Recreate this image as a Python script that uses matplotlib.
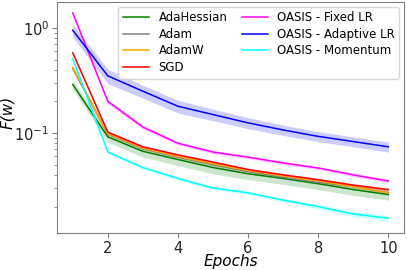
import numpy as np
import matplotlib
matplotlib.use('Agg')
from matplotlib import pyplot as plt

# data
epochs = [1, 2, 3, 4, 5, 6, 7, 8, 9, 10]
adahessian = [0.29, 0.092, 0.067, 0.056, 0.047, 0.041, 0.037, 0.033, 0.029, 0.026]
adahessian_std = [0.03, 0.010, 0.008, 0.007, 0.006, 0.005, 0.0045, 0.004, 0.0035, 0.003]
adam = [0.41, 0.098, 0.071, 0.059, 0.050, 0.043, 0.038, 0.034, 0.031, 0.027]
adam_std = [0.02, 0.004, 0.003, 0.0025, 0.002, 0.002, 0.0015, 0.0015, 0.0012, 0.001]
adamw = [0.42, 0.099, 0.072, 0.060, 0.051, 0.044, 0.039, 0.035, 0.031, 0.027]
adamw_std = [0.02, 0.004, 0.003, 0.0025, 0.002, 0.002, 0.0015, 0.0015, 0.0012, 0.001]
sgd = [0.58, 0.102, 0.074, 0.062, 0.053, 0.045, 0.040, 0.036, 0.032, 0.029]
sgd_std = [0.02, 0.003, 0.002, 0.002, 0.0015, 0.0012, 0.001, 0.001, 0.001, 0.001]
oasis_fixed = [1.39, 0.20, 0.114, 0.080, 0.066, 0.059, 0.052, 0.0465, 0.040, 0.035]
oasis_fixed_std = [0.05, 0.01, 0.005, 0.003, 0.0025, 0.002, 0.002, 0.0015, 0.0015, 0.0012]
oasis_adaptive = [0.95, 0.35, 0.25, 0.18, 0.15, 0.125, 0.107, 0.093, 0.083, 0.074]
oasis_adaptive_std = [0.13, 0.055, 0.035, 0.025, 0.019, 0.015, 0.012, 0.010, 0.009, 0.008]
oasis_momentum = [0.51, 0.066, 0.047, 0.037, 0.030, 0.027, 0.023, 0.020, 0.017, 0.0155]
oasis_momentum_std = [0.02, 0.002, 0.0015, 0.0012, 0.001, 0.001, 0.001, 0.001, 0.001, 0.001]

series = [
    ('AdaHessian', adahessian, adahessian_std, 'green'),
    ('Adam', adam, adam_std, 'grey'),
    ('AdamW', adamw, adamw_std, 'orange'),
    ('SGD', sgd, sgd_std, 'red'),
    ('OASIS - Fixed LR', oasis_fixed, oasis_fixed_std, 'magenta'),
    ('OASIS - Adaptive LR', oasis_adaptive, oasis_adaptive_std, 'blue'),
    ('OASIS - Momentum', oasis_momentum, oasis_momentum_std, 'cyan'),
]

fig = plt.figure(figsize=(4.07, 2.70), dpi=100)
ax = fig.add_axes([0.140, 0.137, 0.853, 0.856])

for name, vals, std, col in series:
    v = np.array(vals)
    s = np.array(std)
    ax.plot(epochs, v, color=col, lw=1.1, label=name)
    ax.fill_between(epochs, v - s, v + s, color=col, alpha=0.2, lw=0)

ax.set_yscale('log')
ax.set_ylim(0.0112, 1.77)
ax.set_xlim(0.55, 10.45)
ax.set_xticks([2, 4, 6, 8, 10])

for sp in ax.spines.values():
    sp.set_color('grey')
ax.tick_params(colors='grey', labelcolor='#222222', labelsize=10.5, pad=2)
ax.tick_params(which='minor', colors='grey')

ax.set_xlabel('Epochs', fontsize=11, style='italic')
ax.set_ylabel('F(w)', fontsize=11, style='italic')
ax.xaxis.set_label_coords(0.5, -0.092)
ax.yaxis.set_label_coords(-0.12, 0.52)

ax.legend(ncol=2, loc='upper right', fontsize=8.5, frameon=True,
          handlelength=2.2, columnspacing=1.2, labelspacing=0.3,
          borderaxespad=0.4)

plt.savefig('out.png', dpi=100)
